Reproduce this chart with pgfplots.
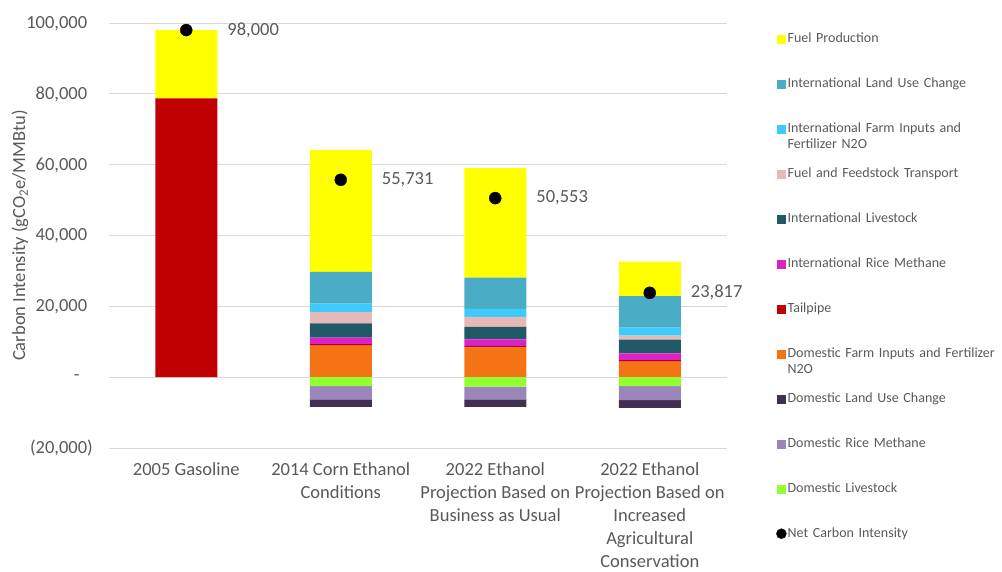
\documentclass[border=0pt]{standalone}
\usepackage{fontspec}
\setmainfont{Carlito}
\usepackage{pgfplots}
\pgfplotsset{compat=1.18}
\definecolor{cYel}{HTML}{FFFF00}
\definecolor{cTeal}{HTML}{4BACC6}
\definecolor{cLBlue}{HTML}{3DCBFF}
\definecolor{cPink}{HTML}{E6B9B8}
\definecolor{cDTeal}{HTML}{215967}
\definecolor{cMag}{HTML}{DA22C6}
\definecolor{cRed}{HTML}{C00000}
\definecolor{cOrg}{HTML}{F47314}
\definecolor{cDPur}{HTML}{403152}
\definecolor{cPur}{HTML}{9B85BA}
\definecolor{cGrn}{HTML}{92FF33}
\definecolor{tgray}{HTML}{595959}
\definecolor{ggray}{HTML}{D9D9D9}

\newcommand{\sq}[1]{\addlegendimage{legend image code/.code={\fill[#1] (0pt,-0.5pt) rectangle (8pt,7.5pt);}}}

\pgfplotsset{common/.style={width=618pt, height=425pt, scale only axis,
  xmin=-0.5, xmax=3.5, ymin=-20000, ymax=100000}}

\begin{document}
\begin{tikzpicture}
% background axis: grid, ticks, labels, legend
\begin{axis}[common, name=main,
  axis line style={draw=none},
  xtick style={draw=none}, ytick style={draw=none},
  ymajorgrids, grid style={ggray, line width=0.9pt},
  scaled y ticks=false,
  ytick={-20000,0,20000,40000,60000,80000,100000},
  yticklabels={{(20,000)},{\makebox[19pt][l]{-}},{20,000\phantom{)}},{40,000\phantom{)}},{60,000\phantom{)}},{80,000\phantom{)}},{100,000\phantom{)}}},
  yticklabel style={anchor=east, inner sep=0pt, xshift=-16pt, font=\fontsize{18.5}{22}\selectfont, text=tgray},
  xtick={0,1,2,3},
  xticklabels={{2005 Gasoline},{2014 Corn Ethanol\\Conditions},{2022 Ethanol\\Projection Based on\\Business as Usual},{2022 Ethanol\\Projection Based on\\Increased\\Agricultural\\Conservation}},
  xticklabel style={align=center, anchor=north, inner sep=0pt, yshift=-14pt, font=\fontsize{18.5}{23}\selectfont, text=tgray},
  ylabel={Carbon Intensity (gCO\textsubscript{2}e/MMBtu)},
  ylabel style={at={(axis description cs:-0.144,0.5)}, anchor=center, font=\fontsize{18.5}{22}\selectfont, text=tgray},
  legend style={at={(1,1)}, anchor=north west, xshift=49pt, yshift=-6pt, draw=none, fill=none,
    inner sep=0pt, row sep=10pt, column sep=1pt, font=\fontsize{14}{16.5}\selectfont,
    nodes={text width=213pt, text height=11pt, text depth=20pt, inner xsep=0pt, inner ysep=2pt, align=left, text=tgray},
    cells={anchor=base west}},
]
\sq{cYel}\addlegendentry{Fuel Production}
\sq{cTeal}\addlegendentry{International Land Use Change}
\sq{cLBlue}\addlegendentry{International Farm Inputs and\\Fertilizer N2O}
\sq{cPink}\addlegendentry{Fuel and Feedstock Transport}
\sq{cDTeal}\addlegendentry{International Livestock}
\sq{cMag}\addlegendentry{International Rice Methane}
\sq{cRed}\addlegendentry{Tailpipe}
\sq{cOrg}\addlegendentry{Domestic Farm Inputs and Fertilizer\\N2O}
\sq{cDPur}\addlegendentry{Domestic Land Use Change}
\sq{cPur}\addlegendentry{Domestic Rice Methane}
\sq{cGrn}\addlegendentry{Domestic Livestock}
\addlegendimage{legend image code/.code={\fill[black] (4pt,3.5pt) circle (5pt);}}
\addlegendentry{Net Carbon Intensity}
\end{axis}

% positive components
\begin{axis}[common, hide axis, ybar stacked, bar width=62pt]
\addplot[fill=cOrg, draw=none]   coordinates {(0,0) (1,8900) (2,8400) (3,4400)};
\addplot[fill=cRed, draw=none]   coordinates {(0,78700) (1,400) (2,400) (3,400)};
\addplot[fill=cMag, draw=none]   coordinates {(0,0) (1,1900) (2,1900) (3,1900)};
\addplot[fill=cDTeal, draw=none] coordinates {(0,0) (1,4000) (2,3500) (3,3900)};
\addplot[fill=cPink, draw=none]  coordinates {(0,0) (1,3200) (2,2800) (3,1100)};
\addplot[fill=cLBlue, draw=none] coordinates {(0,0) (1,2400) (2,2300) (3,2300)};
\addplot[fill=cTeal, draw=none]  coordinates {(0,0) (1,8900) (2,8800) (3,8900)};
\addplot[fill=cYel, draw=none]   coordinates {(0,19300) (1,34400) (2,30900) (3,9700)};
\end{axis}

% negative components
\begin{axis}[common, hide axis, ybar stacked, bar width=62pt]
\addplot[fill=cGrn, draw=none]  coordinates {(0,0) (1,-2500) (2,-2700) (3,-2500)};
\addplot[fill=cPur, draw=none]  coordinates {(0,0) (1,-3800) (2,-3600) (3,-4000)};
\addplot[fill=cDPur, draw=none] coordinates {(0,0) (1,-2100) (2,-2100) (3,-2200)};
\end{axis}

% net carbon intensity
\begin{axis}[common, hide axis, clip=false]
\addplot[only marks, mark=*, mark size=6pt, black, point meta=y,
  nodes near coords={\pgfmathprintnumber[fixed, precision=0, 1000 sep={,}, assume math mode=true]{\pgfplotspointmeta}},
  every node near coord/.append style={anchor=west, xshift=41pt, inner sep=0pt, font=\fontsize{18.5}{22}\selectfont, text=tgray}]
  coordinates {(0,98000) (1,55731) (2,50553) (3,23817)};
\end{axis}

\pgfresetboundingbox
\path[use as bounding box] ([shift={(-109pt,-123pt)}]main.south west) rectangle ++(1002pt,571pt);
\end{tikzpicture}
\end{document}
